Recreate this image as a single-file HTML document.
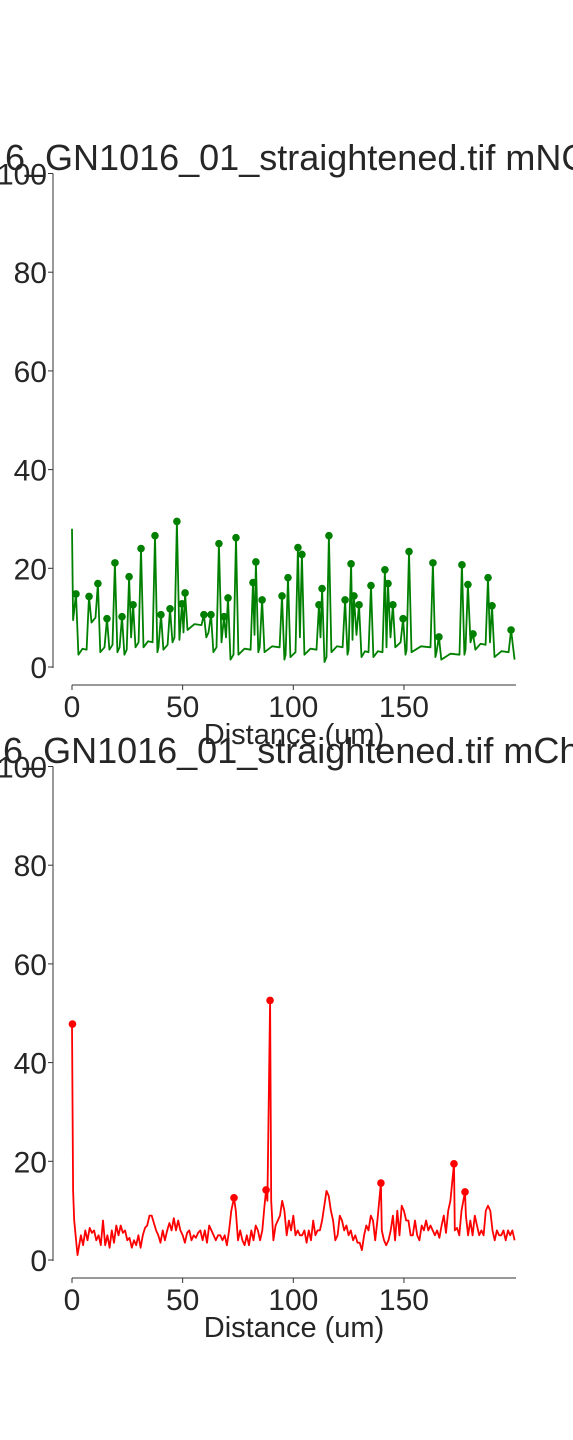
<!DOCTYPE html>
<html><head><meta charset="utf-8"><style>
html,body{margin:0;padding:0;background:#fff;width:573px;height:1440px;overflow:hidden}
svg{display:block}
text{font-family:"Liberation Sans","DejaVu Sans",sans-serif;fill:#262626}
</style></head><body>
<svg id="chart" width="573" height="1440" viewBox="0 0 573 1440">
<text x="5" y="170" font-size="36">6_GN1016_01_straightened.tif mNG</text>
<text x="-17" y="763" font-size="36">16_GN1016_01_straightened.tif mCh</text>
<g id="top"></g><g id="bot"></g>
</svg>
<script>
const xTicks=[0,50,100,150];
const yTicks=[0,20,40,60,80,100];
const greenPeakX=[1.8,7.7,11.7,15.8,19.4,22.6,25.8,27.6,31.2,37.5,40.2,44.3,47.4,49.7,51.1,59.6,62.8,66.4,68.7,70.5,74.1,81.8,83.1,85.9,94.9,97.6,102.1,103.9,111.6,113,116.1,123.4,126.1,127.4,129.7,135.1,141.4,142.8,145,149.6,152.3,163.1,165.8,176.2,178.9,181.2,188,189.8,198.4];
const greenPeakY=[14.8,14.3,16.9,9.8,21.1,10.2,18.3,12.6,24,26.6,10.6,11.8,29.5,12.8,15,10.6,10.6,25,10.2,14,26.2,17.1,21.3,13.6,14.4,18.1,24.2,22.8,12.6,15.9,26.6,13.6,20.9,14.4,12.6,16.5,19.7,16.9,12.6,9.8,23.4,21.1,6.1,20.7,16.7,6.7,18.1,12.4,7.5];
const greenTroughY=[2.5,9,3,3.5,3,2.5,3,4,4,3,3.5,5,2.5,4,7.5,6,3,2,3,1.5,2.5,3.5,3,3,1.5,2,3,2.5,3,1,3,2.5,2.5,3.5,2,2,1,3,4,2.5,3,2,1.5,2.5,2,3.5,2,2];
const redX=[0,0.5,1,2.5,4,5,6,7,8,9,10,11,12,13,14,15,16,17,18,19,20,21,22,23,24,25,26,27,28,29,30,31,32,33,34,35,36,37,38,39,40,41,42,43,44,45,46,47,48,49,50,51,52,53,54,55,56,57,58,59,60,61,62,63,64,65,66,67,68,69,70,71,72,73.2,74,75,76,77,78,79,80,81,82,83,84,85,86,87,87.7,88.3,89.5,90,91,92,93,94,95,96,97,98,99,100,101,102,103,104,105,106,107,108,109,110,111,112,113,114,115,116,117,118,119,120,121,122,123,124,125,126,127,128,129,130,131,132,133,134,135,136,137,138,139.6,140,141,142,143,144,145,146,147,148,149,150,151,152,153,154,155,156,157,158,159,160,161,162,163,164,165,166,167,168,169,170,171,172.6,173,174,175,176,177.6,178,179,180,181,182,183,184,185,186,187,188,189,190,191,192,193,194,195,196,197,198,199,200];
const redY=[47.8,14,8,1,5,3,6,4,6.5,5.5,6,4,5,3,8,3,5,2.5,6,3.5,7,5,7,5.5,6,4,4.5,2.5,4,3,5,2.5,5,6.5,7,9,9,7.5,6,5,3.5,6,4,6,7.5,6,8.5,6,8,6,5,3.5,5.5,6,4,5,4.5,5.5,6,4,6,3.5,7,6,5,4,5,5,4,5,3,6,10,12.6,10,4,6,4,3,5,3,6,4,7,6,4,6,11,14.2,12,52.6,12,4,7,8,9,12,10,5,8,6,9,5,6,5,5,6,3.5,6,4,8,5,6,6,8,11,14,13,10,8,4,5,9,8,6,7,5,6,4,5,3.5,3.5,2,5,7,6,9,8,4,8,15.6,6,4,3,4,6,9,4,10,5,11,10,8,8,5,5,8,5,4,7,6,8,6,7,6,5,6,4.5,7,9,5.5,10,12,19.5,6,6.5,5,10,13.8,9,5,8,5,9,7,5,6,5,10,11,10,6,4,6,5,5,6,4,6,5,6,4];
const redPeakX=[0.2,73.2,87.7,89.5,139.6,172.6,177.6];
const redPeakY=[47.8,12.6,14.2,52.6,15.6,19.5,13.8];
const NS="http://www.w3.org/2000/svg";
function mk(p,t,a){const e=document.createElementNS(NS,t);for(const k in a)e.setAttribute(k,a[k]);p.appendChild(e);return e;}
function panel(g,y0,col,lx,ly,px,py,pref){
  const xs=v=>72+v*2.213, ys=v=>y0-v*4.935;
  let e=mk(g,'line',{x1:53,x2:53,y1:ys(100),y2:ys(0)+1,stroke:'#333','stroke-width':1});
  
  e=mk(g,'line',{x1:xs(0),x2:516,y1:y0+18,y2:y0+18,stroke:'#333','stroke-width':1});
  
  yTicks.forEach(t=>{mk(g,'line',{x1:48,x2:53,y1:ys(t),y2:ys(t),stroke:'#333'});
    e=mk(g,'text',{x:47,y:ys(t)+11,'font-size':30,'text-anchor':'end'});e.textContent=t;
    });
  xTicks.forEach(t=>{mk(g,'line',{x1:xs(t),x2:xs(t),y1:y0+18,y2:y0+23,stroke:'#333'});
    e=mk(g,'text',{x:xs(t),y:y0+50,'font-size':30,'text-anchor':'middle'});e.textContent=t;
    });
  e=mk(g,'text',{x:294,y:y0+77,'font-size':29,'text-anchor':'middle'});e.textContent='Distance (um)';
  
  e=mk(g,'polyline',{points:lx.map((x,i)=>xs(x).toFixed(1)+','+ys(ly[i]).toFixed(1)).join(' '),fill:'none',stroke:col,'stroke-width':1.8,'stroke-linejoin':'round'});
  
  px.forEach((x,i)=>{const c=mk(g,'circle',{cx:xs(x),cy:ys(py[i]),r:3.8,fill:col});
    });
}
// build green line: narrow peaks with low baseline between
const gx=[0,0.5],gy=[28,9.5];
greenPeakX.forEach((x,i)=>{
  const prev=i>0?greenPeakX[i-1]:0.5, nx=i+1<greenPeakX.length?greenPeakX[i+1]:200;
  const tPrev=i>0?greenTroughY[i-1]:3;
  if(x-prev>2.6){gx.push(x-1.1);gy.push(tPrev+1);}
  gx.push(x);gy.push(greenPeakY[i]);
  const t=greenTroughY[i]!==undefined?greenTroughY[i]:1.5;
  if(nx-x>2.6){gx.push(x+1.1);gy.push(t);
    if(nx-x>5){gx.push((x+nx)/2);gy.push(t+1.2);}}
  else {gx.push((x+nx)/2);gy.push(t+3);}
});
gx.push(200);gy.push(1.5);
panel(document.getElementById('top'),667,'#008000',gx,gy,greenPeakX,greenPeakY,'mng');
panel(document.getElementById('bot'),1260,'#ff0000',redX,redY,redPeakX,redPeakY,'mch');
</script>
</body></html>
